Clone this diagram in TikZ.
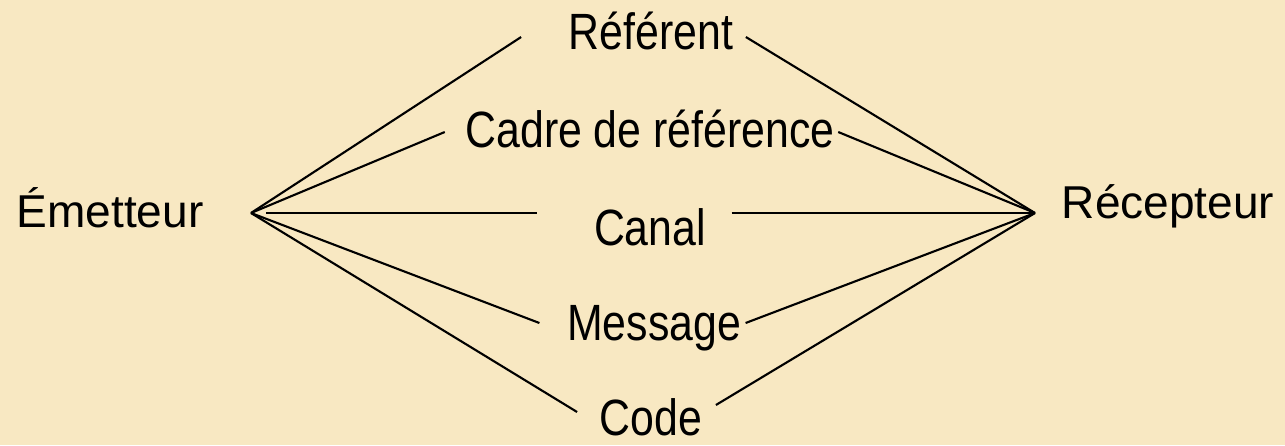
\documentclass[tikz,border=0pt]{standalone}
\usepackage{fontspec}
\setmainfont{Liberation Sans}
\usetikzlibrary{calc}
\definecolor{parchemin}{HTML}{F8E8C2}
\newcommand{\etroit}[1]{\scalebox{0.84}[1]{#1}}

\begin{document}
\begin{tikzpicture}[x=0.01cm,y=-0.01cm,
    pole/.style={inner sep=0pt,anchor=base,font=\fontsize{13.1}{15}\selectfont},
    terme/.style={inner sep=0pt,anchor=base,font=\fontsize{14.5}{17}\selectfont},
    trait/.style={line width=0.6pt}]
    \fill[parchemin] (0,0) rectangle (1285,445);
    \node[pole] (emet) at (110,227) {Émetteur};
    \node[pole] (recep) at (1168,218) {Récepteur};
    \coordinate (E) at (251,213);
    \coordinate (R) at (1035,213);
    \node[terme] (ref) at (651,49) {\etroit{Référent}};
    \node[terme] (cadre) at (650,147) {\etroit{Cadre de référence}};
    \node[terme] (canal) at (650,245) {\etroit{Canal}};
    \node[terme] (msg) at (654,340) {\etroit{Message}};
    \node[terme] (code) at (651,435) {\etroit{Code}};
    % traits vers les termes du milieu
    \foreach \n/\lx/\ly/\rx/\ry in {ref/-47/-12/12/-12,cadre/-20/-15/3/-15,
        msg/-27/-17/4/-17,code/-22/-23/13/-30}{
        \draw[trait] (E)--($(\n.base west)+(\lx,\ly)$);
        \draw[trait] ($(\n.base east)+(\rx,\ry)$)--(R);
    }
    \draw[trait] ($(E)+(15,0)$)--($(canal.base west)+(-56,-32)$);
    \draw[trait] ($(canal.base east)+(25,-32)$)--(R);
\end{tikzpicture}
\end{document}
